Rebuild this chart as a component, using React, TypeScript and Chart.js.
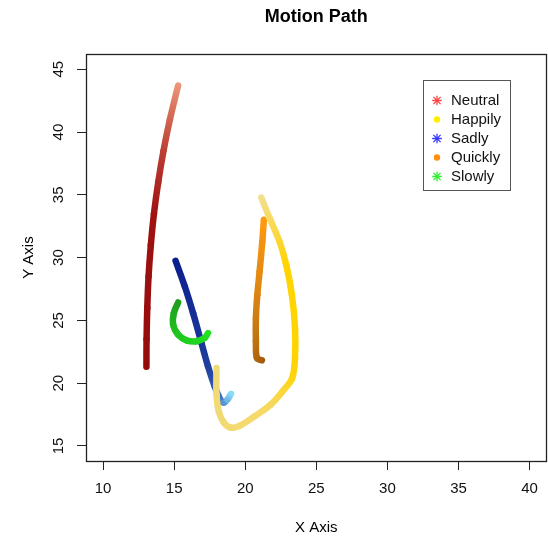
import React, { useEffect, useRef } from 'react';
import { Chart, registerables } from 'chart.js';

Chart.register(...registerables);

const FONT = '"Liberation Sans", Arial, Helvetica, sans-serif';

// ---------- data ----------
const seriesNames = ['Neutral', 'Happily', 'Sadly', 'Quickly', 'Slowly'];
const xTicks = [10, 15, 20, 25, 30, 35, 40];
const yTicks = [15, 20, 25, 30, 35, 40, 45];

const neutralX = [13.05, 13.06, 13.11, 13.2, 13.36, 13.58, 13.88, 14.25, 14.7, 15.28];
const neutralY = [21.3, 23.5, 26.0, 28.5, 31.0, 33.5, 36.0, 38.5, 41.0, 43.7];

const happilyX = [21.13, 21.71, 22.41, 22.88, 23.28, 23.5, 23.5, 23.3, 22.7, 21.8, 20.66, 19.6, 19.0, 18.5, 18.15, 17.98, 17.98];
const happilyY = [34.78, 33.15, 31.28, 29.43, 27.04, 24.4, 22.0, 20.4, 19.45, 18.3, 17.36, 16.6, 16.45, 16.85, 17.7, 19.1, 21.2];

const sadlyX = [15.1, 15.75, 16.33, 16.92, 17.38, 17.85, 18.3, 18.5, 18.75, 19.0];
const sadlyY = [29.75, 27.7, 25.59, 23.2, 21.34, 19.75, 18.6, 18.45, 18.7, 19.15];

const quicklyX = [21.31, 21.2, 21.01, 20.85, 20.75, 20.75, 20.82, 21.17];
const quicklyY = [33.01, 31.28, 28.9, 27.04, 25.19, 23.33, 22.0, 21.82];

const slowlyX = [15.28, 14.98, 14.93, 15.28, 15.87, 16.57, 17.15, 17.38];
const slowlyY = [26.43, 25.59, 24.66, 23.86, 23.41, 23.33, 23.6, 23.99];

// ---------- styles ----------
type Stop = [number, string];
const neutralStops: Stop[] = [[0, '#950a0a'], [0.55, '#a01212'], [0.82, '#c0473a'], [1, '#ec9478']];
const happilyStops: Stop[] = [[0, '#efe08e'], [0.1, '#fbd84a'], [0.18, '#ffd400'], [0.42, '#ffd400'], [0.58, '#f6d96a'], [1, '#efdb78']];
const sadlyStops: Stop[] = [[0, '#0b1e8e'], [0.45, '#1f3f9e'], [0.72, '#4d80cf'], [1, '#8bddf7']];
const quicklyStops: Stop[] = [[0, '#ff9a10'], [0.5, '#d48212'], [1, '#a45c0c']];
const slowlyStops: Stop[] = [[0, '#1e9e1e'], [0.5, '#1ecc1e'], [1, '#22e022']];

const legendColors = ['#ff4545', '#ffee00', '#3a3aff', '#ff9010', '#30ee30'];
const legendShapes = ['star', 'dot', 'star', 'dot', 'star'];

function hexToRgb(h: string): number[] {
  const v = parseInt(h.slice(1), 16);
  return [(v >> 16) & 255, (v >> 8) & 255, v & 255];
}

function colorAt(stops: Stop[], t: number): string {
  if (t <= stops[0][0]) return stops[0][1];
  for (let i = 1; i < stops.length; i++) {
    if (t <= stops[i][0]) {
      const [t0, c0] = stops[i - 1];
      const [t1, c1] = stops[i];
      const f = (t - t0) / (t1 - t0);
      const a = hexToRgb(c0), b = hexToRgb(c1);
      const r = a.map((v, k) => Math.round(v + (b[k] - v) * f));
      return `rgb(${r[0]},${r[1]},${r[2]})`;
    }
  }
  return stops[stops.length - 1][1];
}

function makeDataset(label: string, xs: number[], ys: number[], stops: Stop[], order: number) {
  const n = xs.length;
  return {
    label,
    order,
    data: xs.map((x, i) => ({ x, y: ys[i] })),
    showLine: true,
    pointRadius: 0,
    pointHoverRadius: 0,
    borderWidth: 6.5,
    borderCapStyle: 'round',
    borderJoinStyle: 'round',
    borderColor: stops[0][1],
    tension: 0.35,
    fill: false,
    segment: {
      borderColor: (ctx: any) => {
        const i = ctx.p0DataIndex, j = ctx.p1DataIndex;
        const g = ctx.chart.ctx.createLinearGradient(ctx.p0.x, ctx.p0.y, ctx.p1.x, ctx.p1.y);
        g.addColorStop(0, colorAt(stops, i / (n - 1)));
        g.addColorStop(1, colorAt(stops, j / (n - 1)));
        return g;
      },
      borderDashOffset: (ctx: any) => ctx.p0DataIndex * 0.001,
    },
  };
}

const legendAnchorX = 32.5;
const legendAnchorY = 44.15;

const boxPlugin = {
  id: 'rBox',
  afterDraw(chart: any) {
    const { ctx, chartArea: a } = chart;
    ctx.save();
    ctx.strokeStyle = '#222';
    ctx.lineWidth = 1.3;
    ctx.strokeRect(Math.round(a.left) + 0.5, Math.round(a.top) + 0.5, Math.round(a.right - a.left) - 1, Math.round(a.bottom - a.top));
    ctx.restore();
  },
};

const legendPlugin = {
  id: 'rLegend',
  afterDraw(chart: any) {
    const { ctx } = chart;
    const xs = chart.scales.x, ys = chart.scales.y;
    const left = Math.round(xs.getPixelForValue(legendAnchorX)) + 0.5;
    const top = Math.round(ys.getPixelForValue(legendAnchorY)) + 0.5;
    const w = 87, h = 110;
    ctx.save();
    ctx.fillStyle = '#fff';
    ctx.fillRect(left, top, w, h);
    ctx.strokeStyle = '#555';
    ctx.lineWidth = 1;
    ctx.strokeRect(left, top, w, h);
    seriesNames.forEach((name, i) => {
      const cy = top + 20 + i * 19;
      const cx = left + 13.5;
      ctx.strokeStyle = legendColors[i];
      ctx.fillStyle = legendColors[i];
      if (legendShapes[i] === 'star') {
        const r = 4.8, d = r * 0.75;
        ctx.lineWidth = 1.3;
        ctx.beginPath();
        ctx.moveTo(cx - r, cy); ctx.lineTo(cx + r, cy);
        ctx.moveTo(cx, cy - r); ctx.lineTo(cx, cy + r);
        ctx.moveTo(cx - d, cy - d); ctx.lineTo(cx + d, cy + d);
        ctx.moveTo(cx - d, cy + d); ctx.lineTo(cx + d, cy - d);
        ctx.stroke();
      } else {
        ctx.beginPath();
        ctx.arc(cx, cy, 3.2, 0, Math.PI * 2);
        ctx.fill();
      }
      ctx.fillStyle = '#111';
      ctx.font = `15px ${FONT}`;
      ctx.textBaseline = 'middle';
      ctx.textAlign = 'left';
      ctx.fillText(name, left + 27.5, cy + 0.5);
    });
    ctx.restore();
  },
};

export default function App() {
  const ref = useRef<HTMLCanvasElement | null>(null);

  useEffect(() => {
    if (!ref.current) return;
    const tickFont = { family: FONT, size: 15 };
    const chart = new Chart(ref.current, {
      type: 'scatter',
      data: {
        datasets: [
          makeDataset(seriesNames[0], neutralX, neutralY, neutralStops, 5),
          makeDataset(seriesNames[1], happilyX, happilyY, happilyStops, 1),
          makeDataset(seriesNames[2], sadlyX, sadlyY, sadlyStops, 4),
          makeDataset(seriesNames[3], quicklyX, quicklyY, quicklyStops, 2),
          makeDataset(seriesNames[4], slowlyX, slowlyY, slowlyStops, 3),
        ] as any,
      },
      options: {
        responsive: false,
        animation: false,
        devicePixelRatio: 1,
        layout: { padding: { left: 0, right: 0.3, top: 0, bottom: 0 } },
        plugins: {
          legend: { display: false },
          tooltip: { enabled: false },
          title: {
            display: true,
            text: 'Motion Path',
            fullSize: false,
            color: '#000',
            font: { family: FONT, size: 18, weight: 'bold' },
            padding: { top: 6, bottom: 26.6 },
          },
        },
        scales: {
          x: {
            type: 'linear',
            min: 8.8,
            max: 41.2,
            afterBuildTicks: (s: any) => { s.ticks = xTicks.map((v) => ({ value: v })); },
            afterFit: (s: any) => { s.height = 78; },
            grid: { display: true, drawOnChartArea: false, drawTicks: true, tickLength: 9, color: '#222', lineWidth: 1 },
            border: { display: true, color: '#222', width: 1 },
            ticks: { color: '#111', font: tickFont, padding: 10, maxRotation: 0, minRotation: 0, autoSkip: false },
            title: { display: true, text: 'X Axis', color: '#000', font: tickFont, padding: { top: 0, bottom: 2 } },
          },
          y: {
            type: 'linear',
            min: 13.8,
            max: 46.2,
            afterBuildTicks: (s: any) => { s.ticks = yTicks.map((v) => ({ value: v })); },
            afterFit: (s: any) => { s.width = 86; },
            grid: { display: true, drawOnChartArea: false, drawTicks: true, tickLength: 9, color: '#222', lineWidth: 1 },
            border: { display: true, color: '#222', width: 1 },
            ticks: { color: '#111', font: tickFont, padding: 10, minRotation: 90, maxRotation: 90, crossAlign: 'center', autoSkip: false },
            title: { display: true, text: 'Y Axis', color: '#000', font: tickFont, padding: { top: 20, bottom: 0 } },
          },
        },
      } as any,
      plugins: [boxPlugin, legendPlugin],
    });
    return () => chart.destroy();
  }, []);

  return (
    <div style={{ position: 'absolute', left: 0, top: 0, width: 548, height: 539, background: '#fff' }}>
      <canvas ref={ref} width={548} height={539} style={{ display: 'block' }} />
    </div>
  );
}
